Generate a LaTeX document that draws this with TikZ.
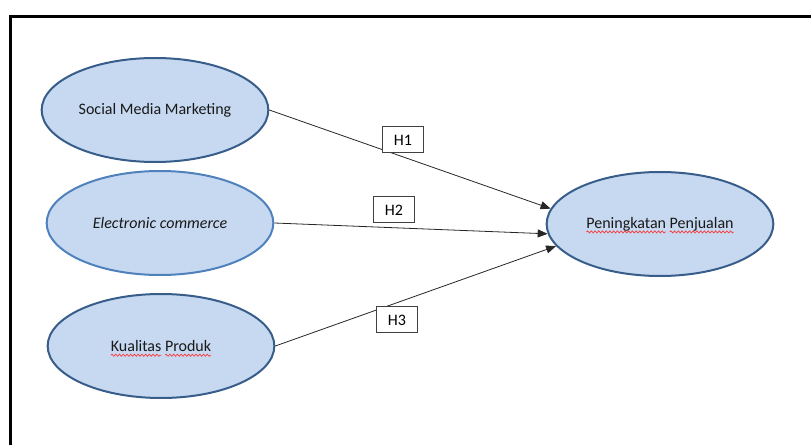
\documentclass[tikz,border=0pt]{standalone}
\usepackage{fontspec}
\setmainfont{Carlito}
\usepackage{tikz}
\usetikzlibrary{shapes.geometric, arrows.meta, decorations.pathmorphing}

\definecolor{ovalfill}{HTML}{C6D9F1}
\definecolor{ovaldraw}{HTML}{385D8A}
\definecolor{ovaldrawlight}{HTML}{4F81BD}
\definecolor{boxdraw}{HTML}{404040}

% red spell-check wave under a word
\newsavebox\wavebox
\newcommand\spellwave[1]{\sbox\wavebox{#1}\rlap{\tikz[overlay]\draw[red!80, line width=0.5pt, decorate,
      decoration={snake, amplitude=0.8pt, segment length=2.8pt}] (0pt,-2.8pt) -- (\wd\wavebox,-2.8pt);}#1}

\begin{document}
\begin{tikzpicture}[x=0.75pt, y=-0.75pt,
           construct/.style={draw=ovaldraw, line width=1.5pt, fill=ovalfill, ellipse,
              minimum width=170pt, minimum height=78pt, inner sep=0pt,
              font=\fontsize{12pt}{14pt}\selectfont, text=black!90},
           hypothesis/.style={draw=boxdraw, line width=0.75pt, fill=white,
              minimum width=31pt, minimum height=19.5pt, inner sep=0pt,
              font=\fontsize{12pt}{14pt}\selectfont},
           connections/.style={-{Triangle[length=7.5pt,width=6pt]}, draw=black!85, line width=0.6pt},
        ]
        \useasboundingbox (0,0) rectangle (811,445);

        % frame
        \draw[line width=1.6pt] (10.5,446) -- (10.5,16.5) -- (812,16.5);

        \node at (155,110) (smm) [construct] {Social Media Marketing};
        \node at (160,223) (ecom) [construct, draw=ovaldrawlight] {\textit{Electronic commerce}};
        \node at (161,346) (quality) [construct] {\spellwave{Kualitas} \spellwave{Produk}};
        \node at (660,224) (sales) [construct] {\spellwave{Peningkatan} \spellwave{Penjualan}};

        \draw[connections] (smm.east) -- (sales.172);
        \draw[connections] (ecom.east) -- (sales.185);
        \draw[connections] (quality.east) -- (sales.192);

        \node at (403,140) (h1) [hypothesis] {H1};
        \node at (394,210) (h2) [hypothesis] {H2};
        \node at (397,320) (h3) [hypothesis] {H3};
\end{tikzpicture}
\end{document}
